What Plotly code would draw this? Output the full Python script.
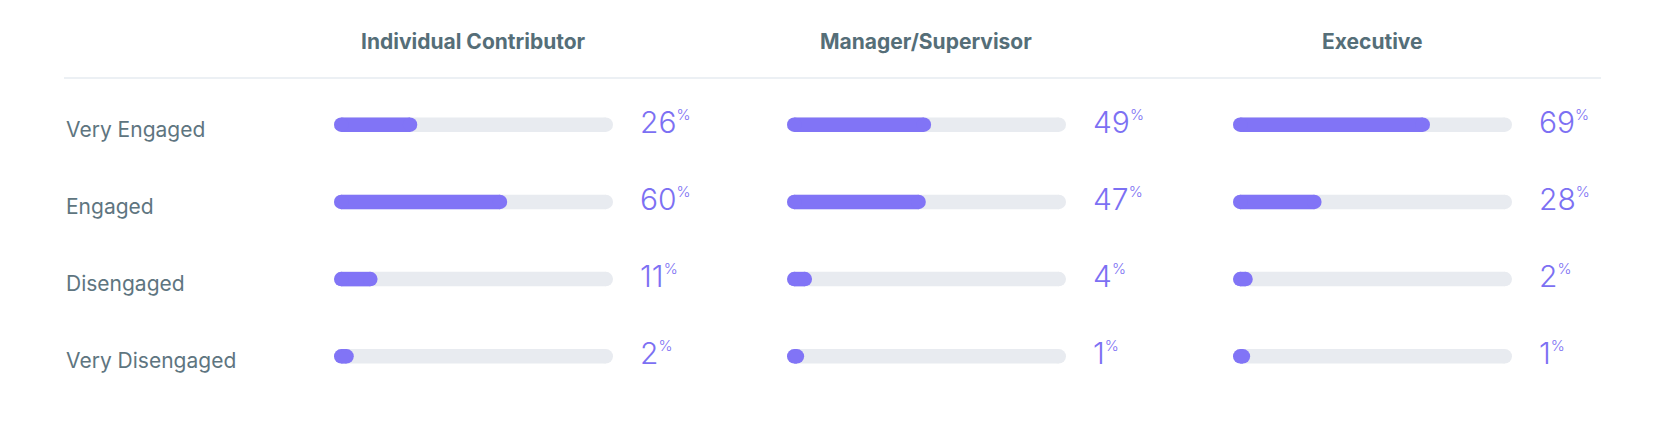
import plotly.graph_objects as go

# ---- data ----
columns = ["Individual Contributor", "Manager/Supervisor", "Executive"]
categories = ["Very Engaged", "Engaged", "Disengaged", "Very Disengaged"]
individual_contributor = [26, 60, 11, 2]
manager_supervisor = [49, 47, 4, 1]
executive = [69, 28, 2, 1]
series = [individual_contributor, manager_supervisor, executive]

# ---- styling / layout constants ----
W, H = 1662, 432
FILL = "#8174f6"
TRACK = "#e8ebf0"
TEXT = "#5e7580"
TITLE = "#556e78"
NUM = "#7c70f3"
FONT = "Inter, 'Noto Sans', sans-serif"
BAR_PX = 14.5
track_start_px = [334, 787, 1233]
inner_px = 264.5            # length of 0..100 between cap centres
px_per_unit = inner_px / 100.0
pad_l, pad_r = 10, 20
row0_px, row_pitch = 124.7, 77.2

fig = go.Figure()

idx = list(range(len(categories)))
for k, vals in enumerate(series):
    ax = "x" if k == 0 else f"x{k+1}"
    tx, ty, fx, fy = [], [], [], []
    for i, v in zip(idx, vals):
        tx += [0, 100, None]
        ty += [i, i, None]
        fx += [0, v, None]
        fy += [i, i, None]
    fig.add_trace(go.Scatter(x=tx, y=ty, mode="lines+markers", xaxis=ax, yaxis="y",
                             line=dict(color=TRACK, width=BAR_PX),
                             marker=dict(color=TRACK, size=BAR_PX),
                             hoverinfo="skip", showlegend=False))
    fig.add_trace(go.Scatter(x=fx, y=fy, mode="lines+markers", xaxis=ax, yaxis="y",
                             line=dict(color=FILL, width=BAR_PX),
                             marker=dict(color=FILL, size=BAR_PX),
                             hoverinfo="skip", showlegend=False))

    # axis geometry
    s = track_start_px[k]
    zero_px = s + BAR_PX / 2
    d0, d1 = s - pad_l, s + BAR_PX + inner_px + pad_r
    r0 = (d0 - zero_px) / px_per_unit
    r1 = (d1 - zero_px) / px_per_unit
    fig.update_layout(**{
        ("xaxis" if k == 0 else f"xaxis{k+1}"): dict(
            domain=[d0 / W, d1 / W], range=[r0, r1], visible=False,
            showgrid=False, zeroline=False, fixedrange=True)
    })

    # column title
    centre_px = s + (BAR_PX + inner_px) / 2
    fig.add_annotation(text=f"<b>{columns[k]}</b>", xref="paper", yref="paper",
                       x=centre_px / W, y=1 - 41.7 / H, xanchor="center", yanchor="middle",
                       showarrow=False, font=dict(family=FONT, size=21, color=TITLE))

    # value labels
    for i, v in zip(idx, vals):
        fig.add_annotation(text=f"{v}<sup><span style='font-size:15px'>%</span></sup>",
                           xref=ax, yref="y", x=100, y=i,
                           xanchor="left", yanchor="middle", xshift=BAR_PX / 2 + 25, yshift=3,
                           showarrow=False,
                           font=dict(family=FONT, size=30, color=NUM, weight=300))

# row labels
for i, c in zip(idx, categories):
    fig.add_annotation(text=c, xref="paper", yref="y", x=64 / W, y=i,
                       xanchor="left", yanchor="middle", yshift=-4.5, showarrow=False,
                       font=dict(family=FONT, size=21, color=TEXT))

# divider line
fig.add_shape(type="line", xref="paper", yref="paper", x0=64 / W, x1=1601 / W,
              y0=1 - 78 / H, y1=1 - 78 / H, line=dict(color="#e6ebf0", width=1.5))

y_top = -row0_px / row_pitch
y_bot = y_top + H / row_pitch
fig.update_layout(
    width=W, height=H,
    margin=dict(l=0, r=0, t=0, b=0),
    paper_bgcolor="white", plot_bgcolor="rgba(0,0,0,0)",
    yaxis=dict(domain=[0, 1], range=[y_bot, y_top], visible=False,
               showgrid=False, zeroline=False, fixedrange=True),
    hovermode=False,
)

fig.write_html("out.html", config={"displayModeBar": False},
               post_script="document.body.style.margin='0';document.body.style.overflow='hidden';")
